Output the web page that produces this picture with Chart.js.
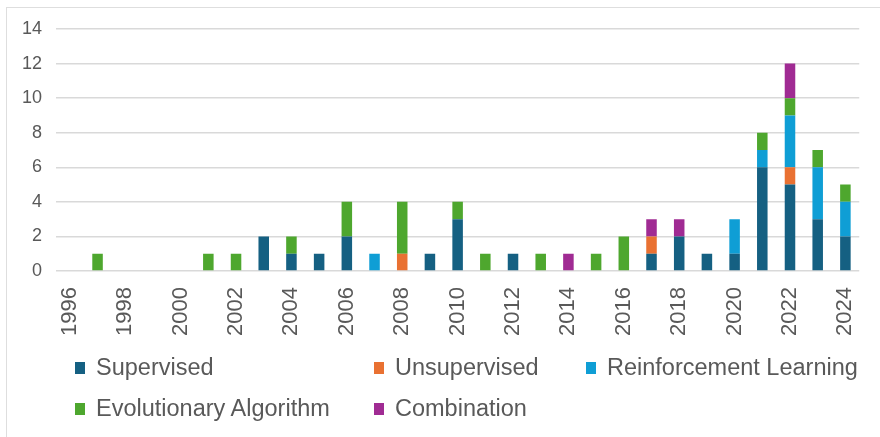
<!DOCTYPE html>
<html>
<head>
<meta charset="utf-8">
<script src="https://cdn.jsdelivr.net/npm/chart.js@4/dist/chart.umd.min.js"></script>
<style>
    html, body { margin: 0; padding: 0; background: #fff; }
    #wrap { position: relative; width: 880px; height: 437px; overflow: hidden; }
    #frame {
        position: absolute; left: 6px; top: 7px; right: -10px; bottom: -10px;
        border-left: 1.5px solid #dedede; border-top: 1.5px solid #dedede;
    }
    #chart { position: absolute; left: 0; top: 0; }
    #legend {
        position: absolute; left: 75px; top: 347px;
        display: grid; grid-template-columns: 299px 212px auto; grid-auto-rows: 41px;
        font-family: "Liberation Sans", Arial, sans-serif; font-size: 23.5px; color: #595959;
    }
    #legend .item { display: flex; align-items: center; white-space: nowrap; }
    #legend .box { width: 10px; height: 12px; margin-right: 11px; }
</style>
</head>
<body>
<div id="wrap">
    <div id="frame"></div>
    <canvas id="chart" width="880" height="437"></canvas>
    <div id="legend"></div>
</div>
<script>
const years = ["1996", "1997", "1998", "1999", "2000", "2001", "2002", "2003", "2004", "2005",
    "2006", "2007", "2008", "2009", "2010", "2011", "2012", "2013", "2014", "2015",
    "2016", "2017", "2018", "2019", "2020", "2021", "2022", "2023", "2024"];

const supervised    = [0, 0, 0, 0, 0, 0, 0, 2, 1, 1, 2, 0, 0, 1, 3, 0, 1, 0, 0, 0, 0, 1, 2, 1, 1, 6, 5, 3, 2];
const unsupervised  = [0, 0, 0, 0, 0, 0, 0, 0, 0, 0, 0, 0, 1, 0, 0, 0, 0, 0, 0, 0, 0, 1, 0, 0, 0, 0, 1, 0, 0];
const reinforcement = [0, 0, 0, 0, 0, 0, 0, 0, 0, 0, 0, 1, 0, 0, 0, 0, 0, 0, 0, 0, 0, 0, 0, 0, 2, 1, 3, 3, 2];
const evolutionary  = [0, 1, 0, 0, 0, 1, 1, 0, 1, 0, 2, 0, 3, 0, 1, 1, 0, 1, 0, 1, 2, 0, 0, 0, 0, 1, 1, 1, 1];
const combination   = [0, 0, 0, 0, 0, 0, 0, 0, 0, 0, 0, 0, 0, 0, 0, 0, 0, 0, 1, 0, 0, 1, 1, 0, 0, 0, 2, 0, 0];

const yTicks = [0, 2, 4, 6, 8, 10, 12, 14];

const font = "'Liberation Sans', Arial, sans-serif";
const textColor = "#595959";

const datasets = [
    { label: "Supervised", data: supervised, backgroundColor: "#156082" },
    { label: "Unsupervised", data: unsupervised, backgroundColor: "#E97132" },
    { label: "Reinforcement Learning", data: reinforcement, backgroundColor: "#0F9ED5" },
    { label: "Evolutionary Algorithm", data: evolutionary, backgroundColor: "#4EA72E" },
    { label: "Combination", data: combination, backgroundColor: "#A02B93" },
];

const chart = new Chart(document.getElementById("chart"), {
    type: "bar",
    data: {
        labels: years,
        datasets: datasets.map(d => ({ ...d, barPercentage: 0.38, categoryPercentage: 1 })),
    },
    options: {
        responsive: false,
        animation: false,
        layout: { padding: { top: 29, right: 12, left: 0, bottom: 0 } },
        plugins: { legend: { display: false }, tooltip: { enabled: false } },
        scales: {
            x: {
                stacked: true,
                grid: { display: false },
                border: { display: false },
                ticks: {
                    autoSkip: false,
                    minRotation: 90,
                    maxRotation: 90,
                    padding: 8,
                    color: textColor,
                    font: { family: font, size: 22 },
                    callback: (v, i) => (i % 2 === 0 ? years[i] : ""),
                },
                afterFit: s => { s.height = 166; },
            },
            y: {
                stacked: true,
                min: yTicks[0],
                max: yTicks[yTicks.length - 1],
                afterBuildTicks: s => { s.ticks = yTicks.map(v => ({ value: v })); },
                grid: { color: "#d9d9d9", lineWidth: 1.5, drawTicks: false },
                border: { display: false },
                ticks: {
                    padding: 14,
                    color: textColor,
                    font: { family: font, size: 18 },
                },
                afterFit: s => { s.width = 56; },
            },
        },
    },
});

// legend in columns like the original
const legend = document.getElementById("legend");
chart.data.datasets.forEach(ds => {
    const item = document.createElement("div");
    item.className = "item";
    item.innerHTML = `<span class="box" style="background:${ds.backgroundColor}"></span>${ds.label}`;
    legend.appendChild(item);
});
</script>
</body>
</html>
